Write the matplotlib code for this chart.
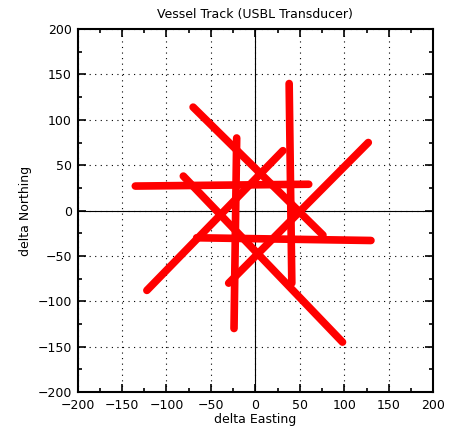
import matplotlib
matplotlib.use('Agg')
import matplotlib.pyplot as plt
from matplotlib.ticker import MultipleLocator

# survey legs, start and end (delta Easting, delta Northing)
leg_x0 = [-135, -66, -21, 38, -70, -81, -122, -30]
leg_y0 = [27, -30, 80, 140, 114, 38, -88, -80]
leg_x1 = [60, 130, -24, 41, 76, 98, 31, 127]
leg_y1 = [29, -33, -130, -80, -27, -145, 66, 75]

fig = plt.figure(figsize=(4.56, 4.32), dpi=100)
ax = fig.add_axes([0.170, 0.0926, 0.780, 0.840])

ax.grid(True, which='major', color='black', linestyle=(0, (1, 4)), linewidth=0.8)
ax.axhline(0, color='black', linewidth=0.8, zorder=1)
ax.axvline(0, color='black', linewidth=0.8, zorder=1)

for x0, y0, x1, y1 in zip(leg_x0, leg_y0, leg_x1, leg_y1):
    ax.plot([x0, x1], [y0, y1], color='#ff0000', linewidth=5.5,
            solid_capstyle='round', zorder=3)

ax.set_xlim(-200, 200)
ax.set_ylim(-200, 200)
ax.xaxis.set_major_locator(MultipleLocator(50))
ax.yaxis.set_major_locator(MultipleLocator(50))
ax.xaxis.set_minor_locator(MultipleLocator(25))
ax.yaxis.set_minor_locator(MultipleLocator(25))
ax.tick_params(which='both', direction='in', top=True, right=True,
               labelsize=9, width=1.2)
ax.tick_params(axis='x', pad=5)
ax.tick_params(axis='y', pad=4)
ax.tick_params(which='major', length=6)
ax.tick_params(which='minor', length=3)
for s in ax.spines.values():
    s.set_linewidth(1.5)

ax.set_title('Vessel Track (USBL Transducer)', fontsize=9, pad=8)
ax.set_xlabel('delta Easting', fontsize=9, labelpad=1)
ax.set_ylabel('delta Northing', fontsize=9, labelpad=4)

fig.savefig('out.png', dpi=100)
